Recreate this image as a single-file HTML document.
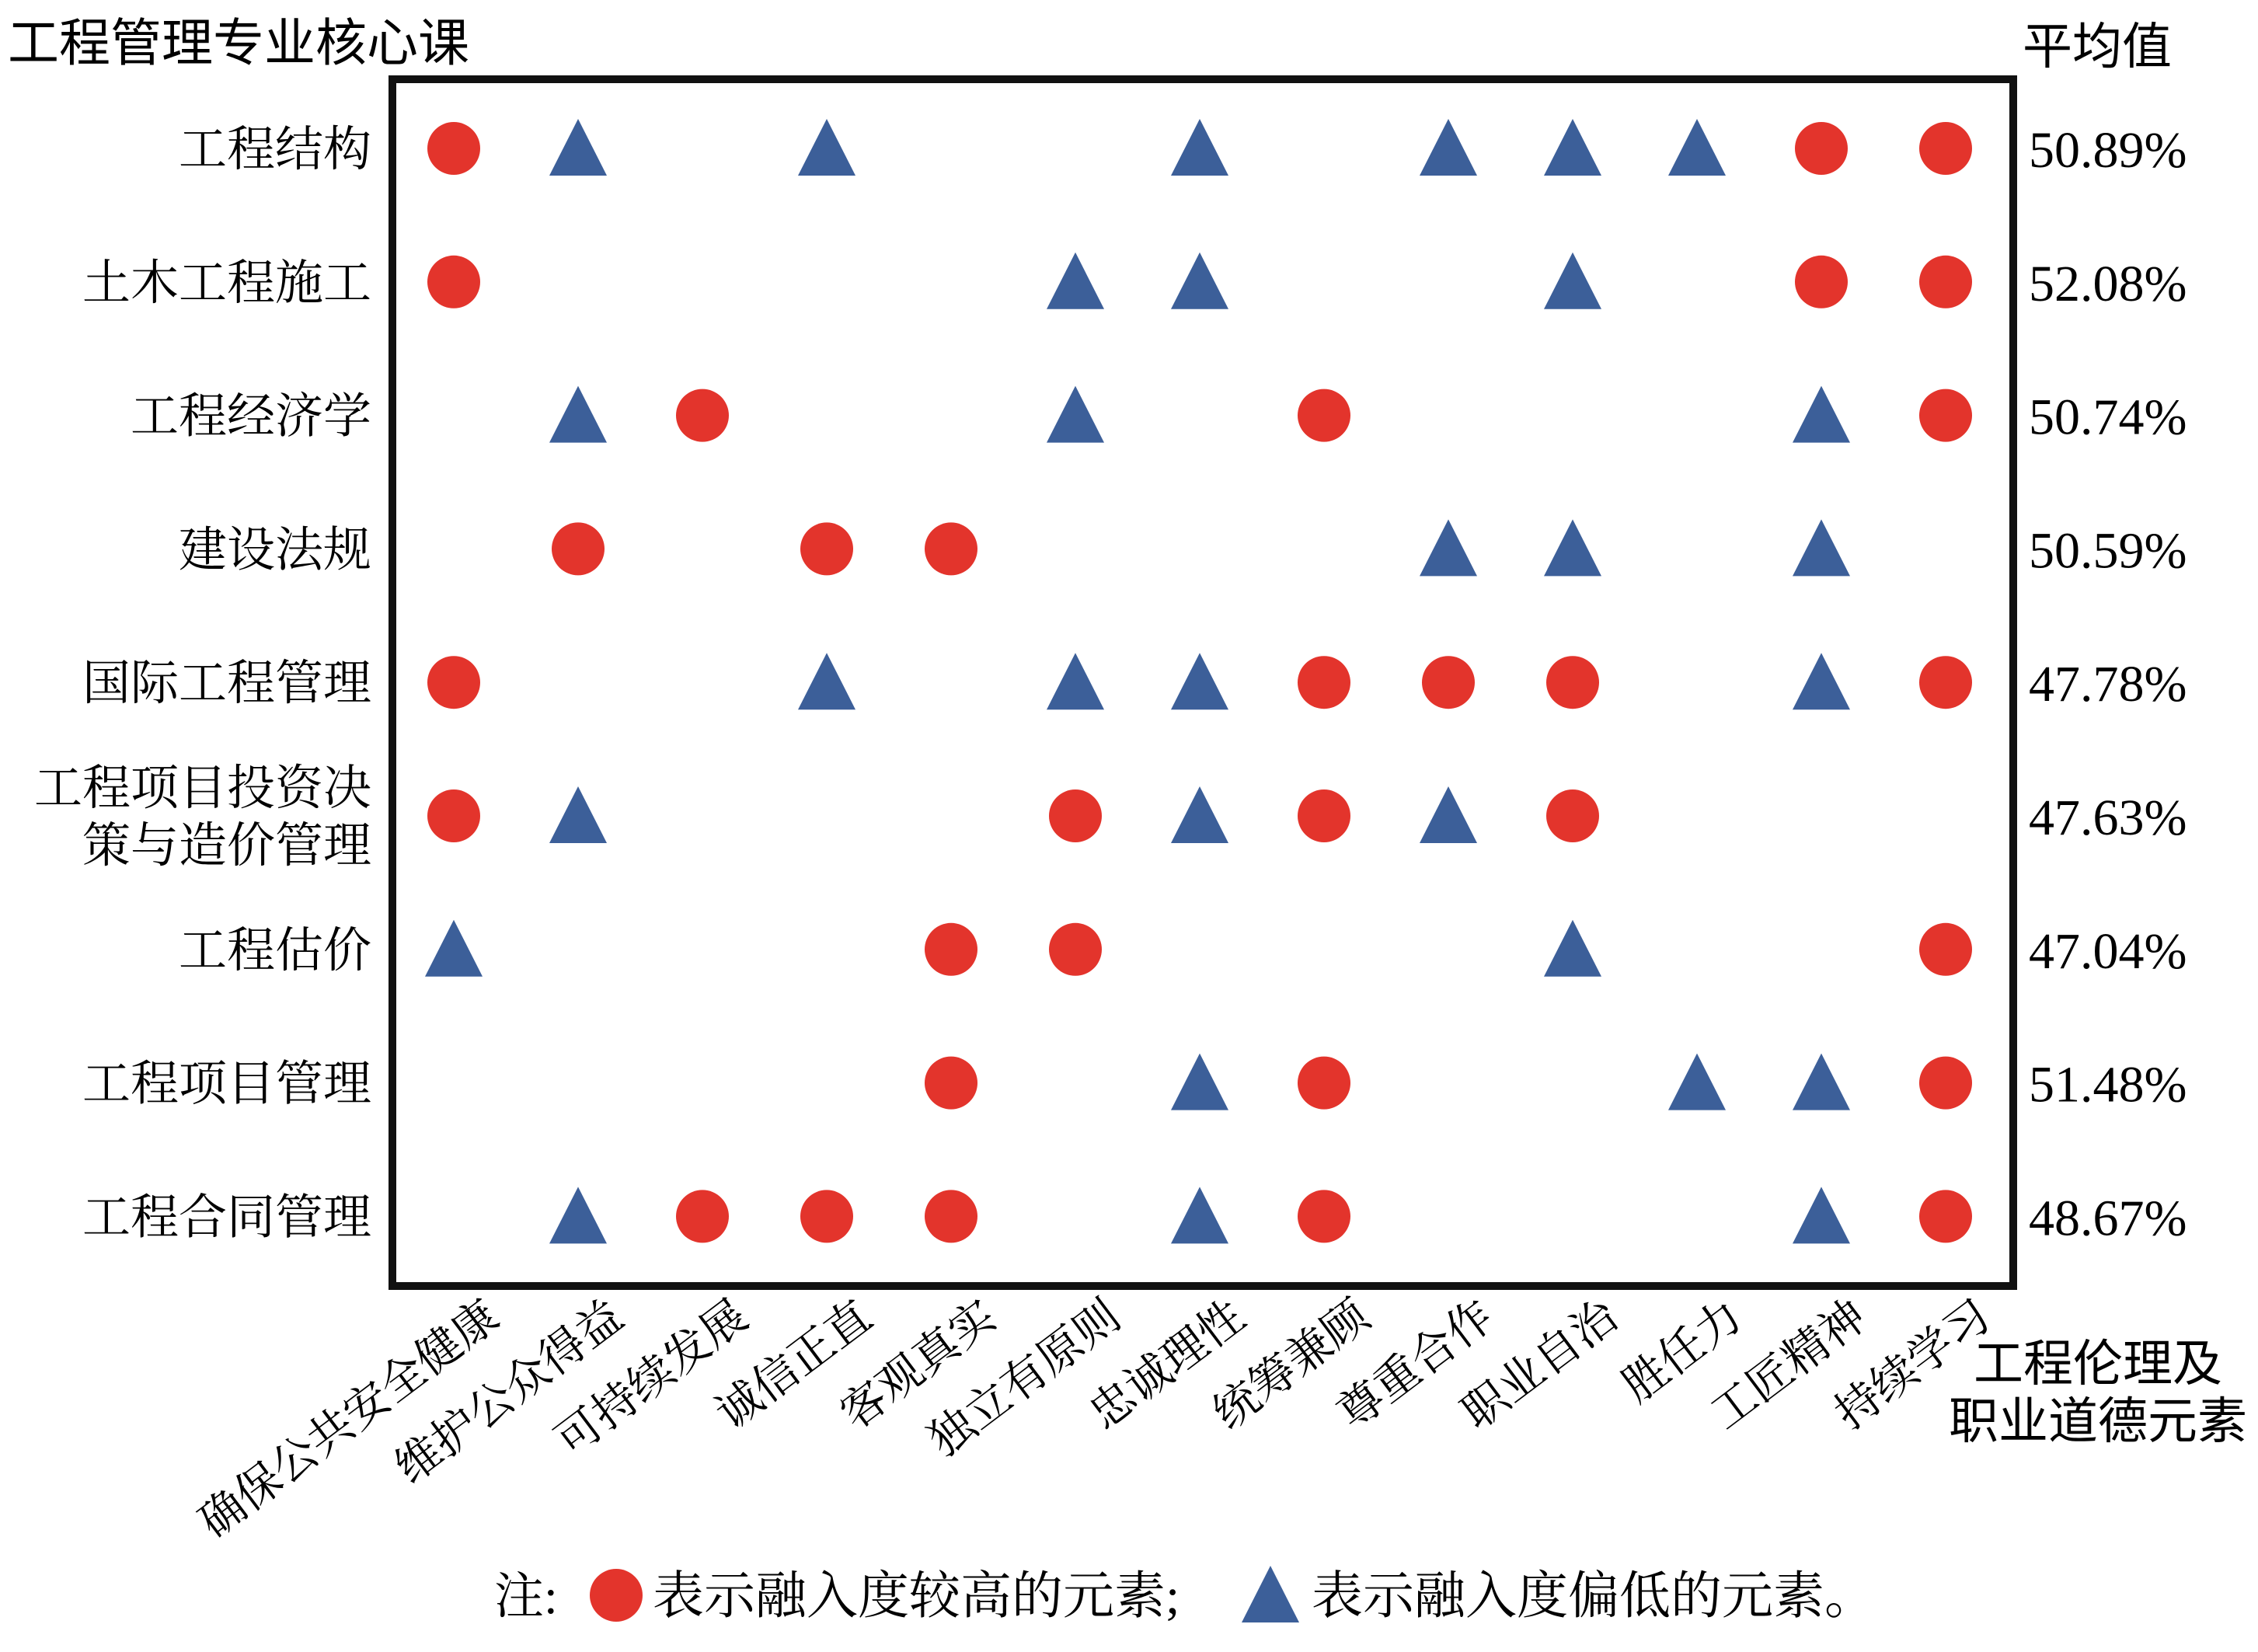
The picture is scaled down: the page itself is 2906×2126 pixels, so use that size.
<!DOCTYPE html>
<html><head><meta charset="utf-8"><style>
body{margin:0;background:#fff;}
svg{display:block;}
.sans{font-family:"Liberation Sans","Noto Sans CJK SC",sans-serif;}
.serif{font-family:"Liberation Serif","Noto Serif CJK SC",serif;}
</style></head><body>
<svg id="chart" width="2906" height="2126" viewBox="0 0 2906 2126" xmlns="http://www.w3.org/2000/svg">
<text x="10" y="78" font-size="66" class="sans">工程管理专业核心课</text>
<text x="2603" y="82" font-size="64" class="sans">平均值</text>
<rect x="505" y="102" width="2086" height="1553" fill="none" stroke="#111" stroke-width="10"/>
<g id="marks"></g>
<g id="ylabels"></g>
<g id="avgs"></g>
<g id="xlabels"></g>
<text x="2700" y="1777" font-size="64" text-anchor="middle" class="sans">工程伦理及</text>
<text x="2700" y="1851" font-size="64" text-anchor="middle" class="sans">职业道德元素</text>
<g>
<text x="636" y="2076" font-size="64" class="serif">注:</text>
<circle cx="793" cy="2053" r="34" fill="#e3342c"/>
<text x="840" y="2076" font-size="66" class="serif">表示融入度较高的元素;</text>
<polygon points="1635,2015 1672,2088 1598,2088" fill="#3c5f99"/>
<text x="1688" y="2076" font-size="66" class="serif">表示融入度偏低的元素。</text>
</g>
</svg>
<script>
const courses=["工程结构","土木工程施工","工程经济学","建设法规","国际工程管理","工程项目投资决策与造价管理","工程估价","工程项目管理","工程合同管理"];
const elements=["确保公共安全健康","维护公众得益","可持续发展","诚信正直","客观真实","独立有原则","忠诚理性","统筹兼顾","尊重合作","职业自治","胜任力","工匠精神","持续学习"];
const averages=["50.89%","52.08%","50.74%","50.59%","47.78%","47.63%","47.04%","51.48%","48.67%"];
// c = high integration (circle), t = low (triangle), . = none
const matrix=[
"ct.t..t.tttcc",
"c....tt..t.cc",
".tc..t.c...tc",
".c.cc...tt.t.",
"c..t.ttccc.tc",
"ct...ctctc...",
"t...cc...t..c",
"....c.tc..ttc",
".tccc.tc...tc"];
const NS="http://www.w3.org/2000/svg";
function xPos(i){return 584+i*160;}
function yPos(j){return 191+j*171.8;}
const marks=document.getElementById('marks');
matrix.forEach((row,j)=>{
  row.split('').forEach((ch,i)=>{
    const cx=xPos(i),cy=yPos(j);
    let el;
    if(ch==='c'){
      el=document.createElementNS(NS,'circle');
      el.setAttribute('cx',cx);el.setAttribute('cy',cy);el.setAttribute('r',34);
      el.setAttribute('fill','#e3342c');
      
    }else if(ch==='t'){
      el=document.createElementNS(NS,'polygon');
      el.setAttribute('points',`${cx},${cy-38} ${cx+37},${cy+35} ${cx-37},${cy+35}`);
      el.setAttribute('fill','#3c5f99');
      
    }else return;
    
    marks.appendChild(el);
  });
});
const yl=document.getElementById('ylabels');
courses.forEach((c,j)=>{
  const lines=c.length>8?[c.slice(0,7),c.slice(7)]:[c];
  lines.forEach((ln,k)=>{
    const t=document.createElementNS(NS,'text');
    t.setAttribute('x',478);
    t.setAttribute('y',yPos(j)+22+(lines.length>1?(k-0.5)*74:0));
    t.setAttribute('text-anchor','end');
    t.setAttribute('font-size','62');
    t.setAttribute('class','serif');
    t.textContent=ln;
    
    
    yl.appendChild(t);
  });
});
const av=document.getElementById('avgs');
averages.forEach((a,j)=>{
  const t=document.createElementNS(NS,'text');
  t.setAttribute('x',2611);t.setAttribute('y',yPos(j)+24);
  t.setAttribute('font-size','66');t.setAttribute('class','serif');
  t.textContent=a;
  
  
  av.appendChild(t);
});
const xl=document.getElementById('xlabels');
elements.forEach((e,i)=>{
  const x=xPos(i)+62,y=1702;
  const t=document.createElementNS(NS,'text');
  t.setAttribute('x',x);t.setAttribute('y',y);
  t.setAttribute('text-anchor','end');
  t.setAttribute('font-size','58');t.setAttribute('class','serif');
  t.setAttribute('transform',`rotate(-37 ${x} ${y})`);
  t.textContent=e;
  
  
  xl.appendChild(t);
});
</script>
</body></html>
